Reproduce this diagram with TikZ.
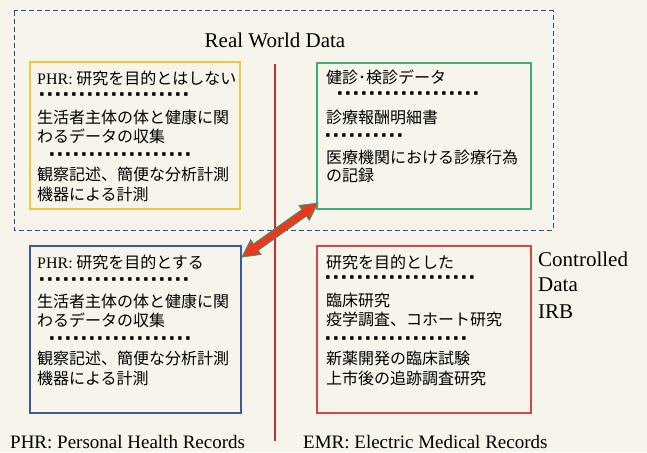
\documentclass[tikz,border=0pt]{standalone}
\usepackage{fontspec}
\setmainfont{Liberation Serif}
\newfontfamily\jpfont{Noto Sans CJK JP}
\newfontfamily\dotfont{Liberation Sans}
\usetikzlibrary{calc}
\definecolor{bgc}{HTML}{F7F4EC}
\definecolor{navy}{HTML}{2B4A8C}
\definecolor{ybox}{HTML}{F4C443}
\definecolor{gbox}{HTML}{3DAE74}
\definecolor{bbox}{HTML}{3C5A96}
\definecolor{rbox}{HTML}{D84545}
\definecolor{rline}{HTML}{C92A2A}
\definecolor{arrfill}{HTML}{E63B1F}
\definecolor{arredge}{HTML}{2E9C7C}
\begin{document}
\begin{tikzpicture}[x=1pt,y=-1pt,
  jt/.style={font=\jpfont\fontsize{16}{19}\selectfont, anchor=west, inner sep=0pt},
  dotrow/.style={font=\dotfont\bfseries\fontsize{24}{10}\selectfont, anchor=base west, inner sep=0pt, text height=9pt, text depth=0pt, yshift=-7.7pt},
  en/.style={font=\fontsize{21}{25}\selectfont, inner sep=0pt},
  enb/.style={font=\fontsize{19}{22}\selectfont, inner sep=0pt, anchor=west},
  boxc/.style={line width=1.05pt}
]
\useasboundingbox (0,0) rectangle (647,452);
\fill[bgc] (0,0) rectangle (647,452);

% outer dashed region
\draw[navy, line width=1pt, dash pattern=on 5pt off 3pt] (14,11) rectangle (553,230);
\node[en] (rwd) at (275,40) {Real World Data};

% red vertical divider
\coordinate (vtop) at (275,64);
\coordinate (vbot) at (275,441);
\draw[rline, line width=1.2pt] (vtop) -- (vbot);

% boxes
\draw[boxc, ybox, fill=bgc] (30,62) rectangle (240,209);
\draw[boxc, gbox, fill=bgc] (317,63) rectangle (531,209);
\draw[boxc, bbox] (30,246) rectangle (241,413);
\draw[boxc, rbox] (317,246) rectangle (531,413);

% yellow box text
\node[jt] (y1) at (37,78) {{\rmfamily PHR:} 研究を目的とはしない};
\node[dotrow] (y2) at (38.5,95) {···················};
\node[jt] (y3) at (37,117) {生活者主体の体と健康に関};
\node[jt] (y4) at (37,136) {わるデータの収集};
\node[dotrow] (y5) at (48.5,155) {··················};
\node[jt] (y6) at (37,174) {観察記述、簡便な分析計測};
\node[jt] (y7) at (37,194) {機器による計測};

% green box text
\node[jt] (g1) at (326,77) {健診･検診データ};
\node[dotrow] (g2) at (336.5,94) {··················};
\node[jt] (g3) at (326,117) {診療報酬明細書};
\node[dotrow] (g4) at (324.5,136) {··········};
\node[jt] (g5) at (326,157) {医療機関における診療行為};
\node[jt] (g6) at (326,175) {の記録};

% blue box text
\node[jt] (b1) at (37,262) {{\rmfamily PHR:} 研究を目的とする};
\node[dotrow] (b2) at (38.5,280) {···················};
\node[jt] (b3) at (37,301) {生活者主体の体と健康に関};
\node[jt] (b4) at (37,320) {わるデータの収集};
\node[dotrow] (b5) at (48.5,339) {··················};
\node[jt] (b6) at (37,358) {観察記述、簡便な分析計測};
\node[jt] (b7) at (37,378) {機器による計測};

% red box text
\node[jt] (r1) at (326,262) {研究を目的とした};
\node[dotrow] (r2) at (324.5,278) {···················};
\node[jt] (r3) at (326,300) {臨床研究};
\node[jt] (r4) at (326,319) {疫学調査、コホート研究};
\node[dotrow] (r5) at (324.5,339) {··················};
\node[jt] (r6) at (326,358) {新薬開発の臨床試験};
\node[jt] (r7) at (326,378) {上市後の追跡調査研究};

% side labels
\node[en, anchor=west] (c1) at (538,259) {Controlled};
\node[en, anchor=west] (c2) at (538,285) {Data};
\node[en, anchor=west] (c3) at (538,312) {IRB};

\node[enb] (phr) at (10,442) {PHR: Personal Health Records};
\node[enb] (emr) at (303,442) {EMR: Electric Medical Records};

% double arrow
\coordinate (a1) at (242,257);
\coordinate (a2) at (318,203);
\coordinate (h1) at ($(a1)!17pt!(a2)$);
\coordinate (h2) at ($(a2)!17pt!(a1)$);
\filldraw[fill=arrfill, draw=arredge, line width=0.8pt, line join=miter]
  (a2) -- ($(h2)!9pt!90:(a2)$) -- ($(h2)!4pt!90:(a2)$)
  -- ($(h1)!4pt!-90:(a1)$) -- ($(h1)!9pt!-90:(a1)$) -- (a1)
  -- ($(h1)!9pt!90:(a1)$) -- ($(h1)!4pt!90:(a1)$)
  -- ($(h2)!4pt!-90:(a2)$) -- ($(h2)!9pt!-90:(a2)$) -- cycle;
\end{tikzpicture}
\end{document}
